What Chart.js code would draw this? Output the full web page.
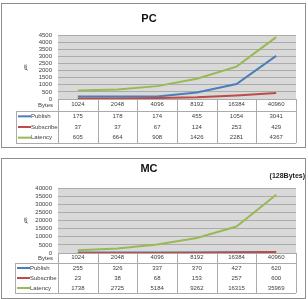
<!DOCTYPE html>
<html>
<head>
<meta charset="utf-8">
<script src="https://cdn.jsdelivr.net/npm/chart.js@4.4.1/dist/chart.umd.min.js"></script>
<style>
  body { margin: 0; background: #fff; width: 308px; height: 299px; overflow: hidden; position: relative; }
  .box { position: absolute; left: 1px; width: 303px; border: 1px solid #8d8d8d; background: #fff; }
  #box1 { top: 3px; height: 143px; }
  #box2 { top: 158px; height: 139px; }
</style>
</head>
<body>
<div class="box" id="box1"><canvas id="pc"></canvas></div>
<div class="box" id="box2"><canvas id="mc"></canvas></div>
<script>
const bytes = ['1024', '2048', '4096', '8192', '16384', '40960'];
const seriesNames = ['Publish', 'Subscribe', 'Latency'];
const seriesColors = ['#4a7ebb', '#be4b48', '#98b954'];

// PC
const pcPublish = [175, 178, 174, 455, 1054, 3041];
const pcSubscribe = [37, 37, 67, 124, 253, 429];
const pcLatency = [605, 664, 908, 1426, 2281, 4367];
const pcTicks = { max: 4500, step: 500 };

// MC
const mcPublish = [255, 326, 337, 370, 427, 620];
const mcSubscribe = [23, 38, 68, 153, 257, 600];
const mcLatency = [1738, 2725, 5184, 9262, 16315, 35969];
const mcTicks = { max: 40000, step: 5000 };

const FONT = '"Liberation Sans", Arial, sans-serif';
const TXT = '#404040';

// plot fill + data table under the x axis
const dataTable = {
  id: 'dataTable',
  beforeDraw(chart, args, opts) {
    const { ctx, chartArea: a } = chart;
    ctx.save();
    ctx.fillStyle = '#d9d9d9';
    ctx.fillRect(a.left, a.top, a.right - a.left, a.bottom - a.top);
    ctx.restore();
  },
  afterDraw(chart, args, opts) {
    const { ctx, chartArea: a } = chart;
    const x = chart.scales.x;
    const sets = chart.data.datasets;
    const head = a.bottom + opts.headerHeight;
    const bottom = head + opts.rowHeight * sets.length;
    const n = chart.data.labels.length;
    const colW = (a.right - a.left) / n;
    const L = opts.legendLeft;

    ctx.save();
    ctx.strokeStyle = '#ababab';
    ctx.lineWidth = 1;
    ctx.beginPath();
    ctx.moveTo(a.left, Math.round(a.bottom) + 0.5); ctx.lineTo(a.right, Math.round(a.bottom) + 0.5);
    ctx.moveTo(L, Math.round(head) + 0.5); ctx.lineTo(a.right, Math.round(head) + 0.5);
    ctx.moveTo(L, Math.round(bottom) + 0.5); ctx.lineTo(a.right, Math.round(bottom) + 0.5);
    ctx.moveTo(L + 0.5, Math.round(head)); ctx.lineTo(L + 0.5, Math.round(bottom));
    for (let j = 0; j <= n; j++) {
      const px = Math.round(a.left + j * colW) + 0.5;
      ctx.moveTo(px, a.bottom); ctx.lineTo(px, Math.round(bottom));
    }
    ctx.stroke();

    ctx.font = '6px ' + FONT;
    ctx.fillStyle = TXT;
    ctx.textBaseline = 'middle';
    ctx.textAlign = 'right';
    ctx.fillText('Bytes', opts.headerLabelX, a.bottom + opts.headerHeight / 2);

    sets.forEach((ds, i) => {
      const y = head + opts.rowHeight * (i + 0.5);
      ctx.strokeStyle = ds.borderColor;
      ctx.lineWidth = 2;
      ctx.beginPath();
      ctx.moveTo(L + 2, y); ctx.lineTo(L + 15, y);
      ctx.stroke();
      ctx.textAlign = 'left';
      ctx.fillText(ds.label, L + 15, y);
      ctx.textAlign = 'center';
      ds.data.forEach((v, j) => ctx.fillText(String(v), x.getPixelForValue(j), y));
    });

    if (opts.note) {
      ctx.font = 'bold 7px ' + FONT;
      ctx.fillStyle = '#222';
      ctx.textAlign = 'right';
      ctx.fillText(opts.note, chart.width, opts.noteY);
    }
    ctx.restore();
  }
};

function makeChart(id, title, values, ticks, t) {
  const datasets = values.map((d, i) => ({
    label: seriesNames[i],
    data: d,
    borderColor: seriesColors[i],
    backgroundColor: seriesColors[i],
    borderWidth: 2,
    pointRadius: 0,
    tension: 0,
    order: 3 - i
  }));
  return new Chart(document.getElementById(id), {
    type: 'line',
    data: { labels: bytes, datasets },
    plugins: [dataTable],
    options: {
      responsive: true,
      maintainAspectRatio: false,
      animation: false,
      layout: { padding: { left: 0, right: 9, top: 0, bottom: t.padBottom } },
      plugins: {
        legend: { display: false },
        tooltip: { enabled: false },
        title: {
          display: true, text: title, color: '#111',
          font: { size: 11, weight: 'bold', family: FONT },
          padding: { top: t.titleTop, bottom: t.titleBottom }
        },
        dataTable: {
          headerHeight: t.header, rowHeight: t.row, legendLeft: t.legendLeft,
          headerLabelX: 51, note: t.note, noteY: t.noteY
        }
      },
      scales: {
        x: {
          offset: true,
          grid: { display: false, drawTicks: false },
          border: { display: false },
          ticks: { font: { size: 6, family: FONT }, color: TXT, padding: t.xPad, maxRotation: 0, autoSkip: false },
          afterFit(s) { s.height = t.header + t.row * 3; }
        },
        y: {
          min: 0, max: ticks.max,
          grid: { color: '#ababab', drawTicks: false },
          border: { display: false },
          ticks: {
            stepSize: ticks.step, autoSkip: false, font: { size: 6, family: FONT }, color: TXT, padding: 6,
            callback: v => String(v)
          },
          title: { display: true, text: '㎲', color: TXT, font: { size: 7 }, padding: { top: 19, bottom: 0 } },
          afterFit(s) { s.width = 56; }
        }
      }
    }
  });
}

makeChart('pc', 'PC', [pcPublish, pcSubscribe, pcLatency], pcTicks,
  { padBottom: 4, titleTop: 8, titleBottom: 10, header: 12, row: 32 / 3, legendLeft: 14, xPad: 2 });
makeChart('mc', 'MC', [mcPublish, mcSubscribe, mcLatency], mcTicks,
  { padBottom: 5, titleTop: 3, titleBottom: 13, header: 10, row: 10, legendLeft: 13, xPad: 1, note: '(128Bytes)', noteY: 17 });
</script>
</body>
</html>
